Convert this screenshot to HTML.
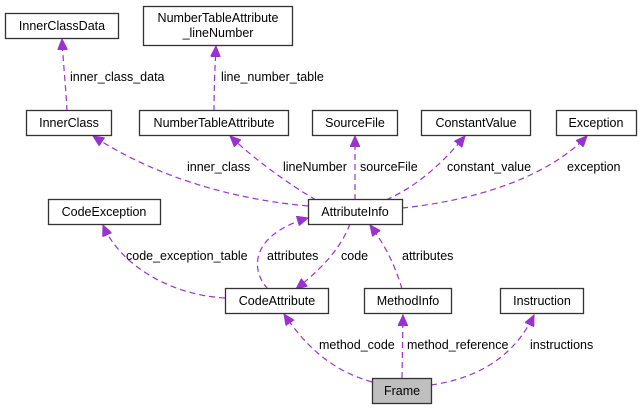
<!DOCTYPE html>
<html><head><meta charset="utf-8"><style>
html,body{margin:0;padding:0;background:#fff;}
svg{display:block;}
text{font-family:"Liberation Sans",Arial,sans-serif;font-size:12.5px;fill:#000;}
</style></head><body>
<svg width="642" height="409" viewBox="0 0 642 409" xmlns="http://www.w3.org/2000/svg">
<defs>
<marker id="a" markerUnits="userSpaceOnUse" markerWidth="12" markerHeight="10" refX="11" refY="5" orient="auto">
<path d="M0,0 L11,5 L0,10 Z" fill="#9a32cd" stroke="#9a32cd"/>
</marker>
</defs>
<g fill="none" stroke="#9a32cd" stroke-width="1.2" stroke-dasharray="6,4" marker-end="url(#a)">
<path d="M67,111 C66,90 63,60 62,39"/>
<path d="M214,111 C214,90 215,65 216,46"/>
<path d="M308,206 C240,200 160,180 93,136"/>
<path d="M316,200 C290,185 255,160 230,136"/>
<path d="M355,200 L355,136"/>
<path d="M386,200 C420,185 445,160 465,136"/>
<path d="M402,208 C480,200 550,175 587,136"/>
<path d="M225,298 C170,295 120,265 103,225"/>
<path d="M268,289 C250,270 250,235 308,218"/>
<path d="M350,224 C340,250 320,270 296,289"/>
<path d="M402,289 C395,265 385,245 370,225"/>
<path d="M372,382 C330,370 305,345 284,314"/>
<path d="M402,378 L403,315"/>
<path d="M431,385 C480,378 515,355 534,315"/>
</g>
<g fill="#fff" stroke="#333" stroke-width="1.3">
<rect x="5.5" y="13.5" width="113" height="25"/>
<rect x="143.5" y="6.5" width="149" height="39"/>
<rect x="26.5" y="110.5" width="85" height="25"/>
<rect x="139.5" y="110.5" width="149" height="25"/>
<rect x="312.5" y="110.5" width="85" height="25"/>
<rect x="421.5" y="110.5" width="109" height="25"/>
<rect x="556.5" y="110.5" width="80" height="25"/>
<rect x="48.5" y="199.5" width="112" height="25"/>
<rect x="308.5" y="199.5" width="94" height="25"/>
<rect x="225.5" y="288.5" width="103" height="25"/>
<rect x="364.5" y="288.5" width="87" height="25"/>
<rect x="500.5" y="288.5" width="83" height="25"/>
<rect x="372.5" y="378.5" width="59" height="25" fill="#bfbfbf"/>
</g>
<g text-anchor="middle">
<text x="62" y="30">InnerClassData</text>
<text x="218" y="22">NumberTableAttribute</text>
<text x="218" y="37">_lineNumber</text>
<text x="69" y="127">InnerClass</text>
<text x="214" y="127">NumberTableAttribute</text>
<text x="355" y="127">SourceFile</text>
<text x="476" y="127">ConstantValue</text>
<text x="596" y="127">Exception</text>
<text x="104" y="216">CodeException</text>
<text x="355" y="216">AttributeInfo</text>
<text x="277" y="305">CodeAttribute</text>
<text x="408" y="305">MethodInfo</text>
<text x="542" y="305">Instruction</text>
<text x="402" y="395">Frame</text>
</g>
<g>
<text x="70" y="81">inner_class_data</text>
<text x="221" y="81">line_number_table</text>
<text x="187" y="171">inner_class</text>
<text x="283" y="171">lineNumber</text>
<text x="360" y="171">sourceFile</text>
<text x="447" y="171">constant_value</text>
<text x="567" y="171">exception</text>
<text x="126" y="260">code_exception_table</text>
<text x="267" y="260">attributes</text>
<text x="341" y="260">code</text>
<text x="402" y="260">attributes</text>
<text x="319" y="349">method_code</text>
<text x="407" y="349">method_reference</text>
<text x="530" y="349">instructions</text>
</g>
</svg>
</body></html>
